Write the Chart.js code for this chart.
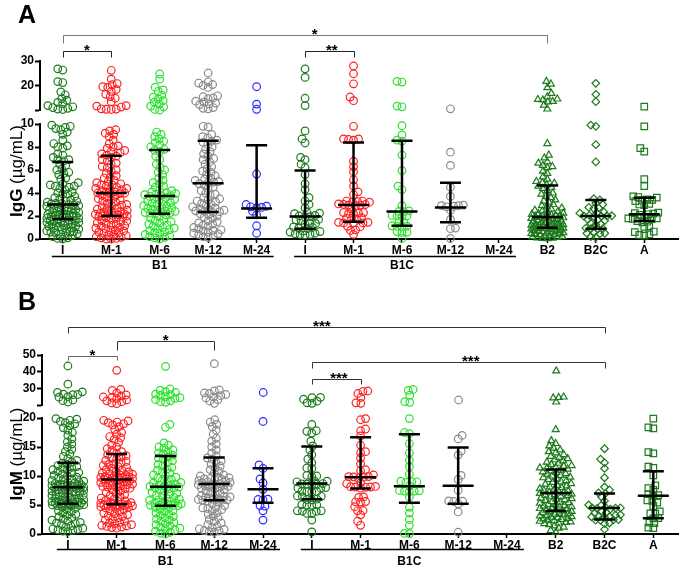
<!DOCTYPE html>
<html>
<head>
<meta charset="utf-8">
<script src="https://cdn.jsdelivr.net/npm/chart.js@4"></script>
<style>
  body { margin: 0; background: #fff; }
  #wrap { position: relative; width: 684px; height: 567px; }
  canvas { position: absolute; left: 0; }
</style>
</head>
<body>
<div id="wrap">
  <canvas id="aTop" width="684" height="285" style="top:0"></canvas>
  <canvas id="aLow" width="684" height="285" style="top:0"></canvas>
  <canvas id="bTop" width="684" height="282" style="top:285px"></canvas>
  <canvas id="bLow" width="684" height="282" style="top:285px"></canvas>
</div>
<script>
var FONT = '"Liberation Sans", Arial, sans-serif';
Chart.defaults.font.family = FONT;
Chart.defaults.color = '#000';

// categorias del eje x
var categories = ['I', 'M-1', 'M-6', 'M-12', 'M-24', 'I', 'M-1', 'M-6', 'M-12', 'M-24', 'B2', 'B2C', 'A'];

// ---- IgG (panel A) ----
var iggB1_I = [26.8, 26.3, 21.6, 21.2, 17.4, 16.2, 14.6, 14.0, 13.1, 12.6, 11.8, 11.3, 11.0, 10.7, 10.4, 10.2,
  9.9, 9.8, 9.7, 9.6, 9.5, 9.3, 9.1, 8.6, 8.3, 8.1, 8.0, 7.9, 7.4, 7.3, 7.1, 6.9, 6.9, 6.8,
  6.5, 6.4, 6.1, 6.0, 5.8, 5.7, 5.6, 5.3, 5.2, 4.9, 4.8, 4.7, 4.6, 4.6, 4.5, 4.4, 4.3, 4.1, 4.0, 3.9, 3.9, 3.7, 3.6, 3.5, 3.4, 3.3, 3.3, 3.2, 3.1, 3.1, 3.05, 3.0,
  2.95, 2.9, 2.85, 2.8, 2.75, 2.7, 2.6, 2.55, 2.5, 2.5, 2.45, 2.4, 2.3, 2.3, 2.25, 2.2, 2.15, 2.1, 2.05, 2.0, 2.0, 1.95, 1.9, 1.9, 1.85, 1.8, 1.8, 1.75,
  1.7, 1.65, 1.6, 1.6, 1.55, 1.5, 1.45, 1.45, 1.4, 1.35, 1.3, 1.3, 1.2, 1.15, 1.1, 1.05, 1.0, 0.95, 0.9, 0.85, 0.8, 0.7, 0.65, 0.6, 0.6, 0.55, 0.5, 0.45, 0.4, 0.3, 0.2, 0.1, 0.05, 0.0];
var iggB1_M1 = [26.2, 22.6, 20.8, 20.3, 19.5, 19.2, 18.4, 17.6, 16.4, 15.5, 14.8, 13.4, 11.8, 11.6, 11.2, 10.5, 10.4, 10.3, 10.2,
  9.5, 9.4, 9.2, 9.1, 8.9, 8.6, 8.3, 8.1, 8.0, 7.9, 7.7, 7.6, 7.5, 7.4, 7.3,
  7.2, 7.1, 6.9, 6.8, 6.6, 6.5, 6.3, 6.2, 6.0, 5.9, 5.7, 5.5, 5.4, 5.3, 5.1, 5.0, 4.9, 4.8, 4.7, 4.7, 4.6, 4.5, 4.4, 4.4, 4.3, 4.3, 4.2, 4.1, 4.1, 4.0, 4.0,
  3.95, 3.9, 3.8, 3.7, 3.6, 3.5, 3.4, 3.4, 3.3, 3.2, 3.1, 3.0, 2.95, 2.9, 2.8, 2.7, 2.65, 2.6, 2.5, 2.45, 2.4, 2.35, 2.3, 2.25, 2.2, 2.2, 2.15, 2.1, 2.05, 2.0, 2.0,
  1.95, 1.9, 1.85, 1.8, 1.7, 1.6, 1.55, 1.5, 1.4, 1.35, 1.3, 1.2, 1.15, 1.1, 1.0, 0.95, 0.9, 0.8, 0.75, 0.7, 0.6, 0.55, 0.5, 0.4, 0.35, 0.3, 0.2, 0.15, 0.1, 0.05, 0.0, 0.0];
var iggB1_M6 = [24.7, 22.6, 19.3, 18.2, 17.6, 16.1, 15.2, 14.5, 13.8, 13.2, 12.4, 11.6, 11.3, 10.2, 10.0,
  9.3, 9.1, 8.9, 8.7, 8.5, 8.4, 8.2, 8.0, 7.8,
  7.7, 7.6, 7.2, 6.9, 6.5, 6.2, 6.0, 5.8, 5.6, 5.3, 5.1, 4.9, 4.8, 4.6, 4.5, 4.3, 4.2, 4.1, 4.0, 3.95, 3.9, 3.85, 3.8, 3.78,
  3.7, 3.6, 3.5, 3.45, 3.4, 3.3, 3.2, 3.15, 3.1, 3.0, 2.9, 2.85, 2.8, 2.7, 2.65, 2.6, 2.5, 2.45, 2.4, 2.35, 2.3, 2.3, 2.25, 2.22,
  2.1, 1.95, 1.8, 1.7, 1.6, 1.5, 1.4, 1.3, 1.2, 1.1, 1.0, 0.95, 0.9, 0.8, 0.7, 0.6, 0.55, 0.5, 0.4, 0.3, 0.2, 0.15, 0.1, 0.0];
var iggB1_M12 = [25.1, 21.5, 21.0, 20.4, 20.0, 19.2, 15.8, 15.4, 14.9, 14.6, 13.6, 13.2, 12.8, 12.5, 12.2, 11.0, 10.7, 10.5,
  9.8, 9.75, 9.1, 8.9, 8.8, 8.6,
  8.5, 8.4, 8.2, 8.0, 7.8, 7.6, 7.4, 7.2, 7.0, 6.9, 6.7, 6.5, 6.3, 6.1, 5.9, 5.8, 5.6, 5.5, 5.3, 5.2, 5.1, 5.0, 4.95, 4.9,
  4.8, 4.7, 4.5, 4.4, 4.2, 4.0, 3.9, 3.8, 3.6, 3.5, 3.4, 3.3, 3.2, 3.1, 3.0, 2.9, 2.8, 2.7, 2.6, 2.55, 2.5, 2.45, 2.4, 2.38,
  2.3, 2.2, 2.1, 2.0, 1.9, 1.8, 1.6, 1.5, 1.4, 1.3, 1.2, 1.1, 1.0, 0.9, 0.8, 0.75, 0.7, 0.6, 0.5, 0.45, 0.4, 0.3, 0.2, 0.15];
var iggB1_M24 = [19.5, 12.4, 10.3, 5.65, 3.0, 2.8, 2.75, 2.7, 2.85, 2.4, 2.1, 1.15, 0.5];
var iggB1C_I = [26.8, 23.3, 14.8, 11.8, 9.4, 8.7, 8.35, 7.1, 6.9, 6.5, 6.2, 5.6, 4.8, 4.3, 3.6, 3.3, 3.0, 2.7,
  2.3, 2.2, 2.25, 2.0, 1.95, 1.9, 2.05, 1.7, 1.6, 1.65, 1.4, 1.35, 1.3, 1.0, 0.95, 1.05, 0.9, 0.7, 0.6, 0.65, 0.4, 0.45, 0.35, 0.5, 0.4];
var iggB1C_M1 = [28.0, 24.8, 20.7, 15.3, 13.8, 9.8, 8.7, 8.65, 8.6, 8.7, 6.75, 6.3, 5.85, 5.15, 4.6, 4.1, 3.85,
  3.3, 3.25, 3.2, 3.3, 3.2, 3.0, 2.95, 2.9, 3.05, 2.95, 3.0, 2.6, 2.3, 2.2, 2.25, 2.3, 2.2,
  1.8, 1.85, 1.75, 1.8, 1.45, 1.4, 1.4, 1.45, 1.4, 1.1, 1.05, 0.8, 0.75, 0.4];
var iggB1C_M6 = [21.7, 21.4, 11.6, 11.3, 9.85, 9.05, 8.6, 8.5, 7.3, 5.95, 4.6, 4.3, 2.9, 2.45, 2.4, 2.35, 2.05, 2.0, 1.95, 2.0,
  1.55, 1.45, 1.15, 1.1, 1.05, 1.1, 0.65, 0.6, 0.55, 0.05];
var iggB1C_M12 = [10.5, 7.55, 6.4, 4.5, 3.7, 2.9, 2.95, 2.85, 2.9, 2.8, 2.5, 1.7, 0.95, 0.9, 0.05];
var iggB1C_M24 = [];
var iggB2 = [21.7, 20.6, 19.1, 16.8, 15.4, 14.5, 14.3, 14.1, 13.5, 13.3, 12.0, 10.4,
  8.3, 7.3, 7.05, 6.7, 6.6, 6.4, 6.3, 6.2, 5.9, 5.7, 5.4, 5.2, 5.0, 4.9, 4.85, 4.7,
  4.6, 4.5, 4.4, 4.2, 4.0, 3.9, 3.7, 3.6, 3.4, 3.3, 3.2, 3.0, 2.9, 2.8, 2.7, 2.6, 2.5, 2.45, 2.4, 2.3, 2.25, 2.2, 2.15, 2.1, 2.05, 2.0, 1.98, 1.95,
  1.9, 1.88, 1.85, 1.8, 1.78, 1.75, 1.7, 1.65, 1.6, 1.55, 1.5, 1.48, 1.45, 1.4, 1.35, 1.3, 1.28, 1.25, 1.2, 1.18, 1.15, 1.1, 1.08, 1.05, 1.03, 1.0, 1.0, 0.99,
  0.95, 0.92, 0.9, 0.88, 0.85, 0.8, 0.78, 0.75, 0.7, 0.68, 0.65, 0.6, 0.55, 0.5, 0.48, 0.45, 0.4, 0.38, 0.35, 0.3, 0.25, 0.22, 0.2, 0.15, 0.1, 0.08, 0.05, 0.02];
var iggB2C = [20.9, 16.4, 13.4, 9.9, 9.8, 8.2, 6.7, 3.5, 3.4, 3.1, 3.0, 2.75, 2.7, 2.65, 2.35, 2.3, 2.25, 2.05, 2.0, 1.98, 2.0, 1.95, 2.02,
  1.7, 1.65, 1.6, 1.3, 1.35, 1.25, 0.9, 0.95, 0.85, 0.9, 0.55, 0.5, 0.45, 0.5, 0.2, 0.15];
var iggA = [11.4, 9.8, 7.9, 7.6, 5.2, 4.6, 3.7, 3.65, 3.6, 3.4, 3.35, 3.3, 3.45, 3.0, 2.95, 3.05, 2.3, 2.25, 2.2, 2.15, 2.1,
  1.85, 1.8, 1.75, 1.8, 1.75, 1.5, 1.45, 1.55, 1.1, 1.05, 0.65, 0.6, 0.35, 0.3, 0.4];
var iggMedian = [3.0, 4.0, 3.75, 4.85, 2.65, 1.95, 2.95, 2.4, 2.75, null, 1.92, 2.0, 2.15];
var iggQ1 = [1.74, 2.0, 2.2, 2.35, 1.85, 0.9, 1.5, 1.15, 1.45, null, 0.98, 0.9, 1.57];
var iggQ3 = [6.7, 7.25, 7.75, 8.55, 8.15, 5.95, 8.4, 8.55, 4.9, null, 4.65, 3.4, 3.58];
var iggTicksUpper = [10, 20, 30];
var iggTicksLower = [0, 2, 4, 6, 8, 10];

// ---- IgM (panel B) ----
var igmB1_I = [43.4, 32.5, 27.9, 27.6, 26.5, 26.3, 26.2, 25.0, 24.7, 23.0, 22.6, 21.8,
  19.9, 19.8, 19.6, 19.4, 19.2, 19.0, 18.7, 18.3, 17.9, 17.5, 17.0, 16.4, 15.9, 15.5, 15.0, 14.6, 14.2, 13.8, 13.4, 13.0, 12.7, 12.4,
  12.2, 12.0, 11.8, 11.6, 11.5, 11.3, 11.1, 11.0, 10.8, 10.6, 10.5, 10.3, 10.1, 10.0, 9.8, 9.7, 9.5, 9.4, 9.2, 9.1, 9.0, 8.9, 8.8, 8.7, 8.6, 8.5, 8.45, 8.4, 8.35, 8.3, 8.25, 8.2, 8.15, 8.1,
  8.05, 8.0, 7.95, 7.9, 7.8, 7.7, 7.6, 7.5, 7.4, 7.3, 7.2, 7.1, 7.0, 6.9, 6.8, 6.7, 6.6, 6.5, 6.4, 6.3, 6.2, 6.1, 6.0, 5.9, 5.8, 5.7, 5.6, 5.5, 5.45, 5.4, 5.35, 5.3, 5.25, 5.2,
  5.15, 5.1, 5.05, 5.0, 5.0, 4.95, 4.9, 4.8, 4.6, 4.4, 4.2, 4.0, 3.8, 3.6, 3.4, 3.2, 3.0, 2.8, 2.6, 2.4, 2.2, 2.0, 1.9, 1.8, 1.6, 1.4, 1.2, 1.0, 0.9, 0.8, 0.7, 0.6, 0.5, 0.4];
var igmB1_M1 = [40.8, 29.3, 28.8, 27.2, 26.0, 25.5, 24.8, 24.5, 23.9, 23.0, 22.5, 22.0, 21.2, 20.8,
  19.6, 19.5, 19.3, 19.2, 19.0, 18.8, 18.5, 18.0, 17.5, 17.2, 16.8, 16.6, 16.3, 15.8, 15.3, 15.0, 14.7, 14.4, 14.2, 13.9,
  13.7, 13.5, 13.3, 13.1, 12.9, 12.7, 12.5, 12.3, 12.1, 12.0, 11.8, 11.6, 11.5, 11.3, 11.1, 11.0, 10.8, 10.7, 10.5, 10.4, 10.3, 10.2, 10.1, 10.0, 9.9, 9.85, 9.8, 9.75, 9.7, 9.65, 9.6, 9.55, 9.5, 9.45,
  9.35, 9.3, 9.2, 9.1, 9.0, 8.9, 8.8, 8.7, 8.6, 8.5, 8.4, 8.3, 8.2, 8.1, 8.0, 7.9, 7.8, 7.6, 7.4, 7.2, 7.0, 6.8, 6.6, 6.4, 6.2, 6.0, 5.8, 5.7, 5.6, 5.5, 5.4, 5.3, 5.25, 5.2,
  5.1, 5.05, 5.0, 4.95, 4.9, 4.85, 4.8, 4.75, 4.7, 4.6, 4.5, 4.4, 4.2, 4.0, 3.8, 3.6, 3.5, 3.3, 3.1, 3.0, 2.8, 2.6, 2.4, 2.2, 2.0, 1.9, 1.8, 1.6, 1.5, 1.4, 1.3, 1.2, 1.1, 1.0];
var igmB1_M6 = [43.2, 29.6, 28.8, 28.0, 27.5, 26.5, 26.2, 25.8, 25.0, 24.4, 24.0, 23.2, 22.5, 22.0, 21.6,
  18.9, 18.4, 15.7, 15.3, 15.0, 14.8, 14.5, 14.2, 14.0, 13.8, 13.6,
  13.3, 13.1, 12.9, 12.6, 12.3, 12.0, 11.8, 11.5, 11.2, 11.0, 10.7, 10.5, 10.2, 10.0, 9.8, 9.6, 9.4, 9.2, 9.0, 8.9, 8.8, 8.6, 8.5, 8.4, 8.3, 8.2,
  8.1, 8.0, 7.9, 7.8, 7.6, 7.4, 7.2, 7.0, 6.9, 6.7, 6.5, 6.3, 6.1, 6.0, 5.9, 5.8, 5.6, 5.5, 5.4, 5.3, 5.2, 5.1, 5.0, 4.95, 4.9, 4.88,
  4.8, 4.6, 4.4, 4.2, 4.0, 3.8, 3.6, 3.4, 3.2, 3.0, 2.8, 2.6, 2.4, 2.2, 2.0, 1.8, 1.6, 1.4, 1.2, 1.0, 0.9, 0.7, 0.5, 0.3, 0.15, 0.0];
var igmB1_M12 = [44.8, 29.0, 28.5, 27.2, 26.9, 26.3, 25.6, 24.9, 24.2, 23.2, 22.4, 21.0,
  19.7, 19.3, 18.9, 18.5, 17.9, 17.2, 16.5, 16.0, 15.5, 15.0, 14.5, 14.0, 13.5,
  13.1, 12.9, 12.6, 12.3, 12.0, 11.7, 11.4, 11.1, 10.8, 10.5, 10.2, 10.0, 9.8, 9.7, 9.6, 9.5, 9.4, 9.3, 9.2, 9.1, 9.0, 8.9, 8.8, 8.7, 8.65,
  8.55, 8.5, 8.4, 8.3, 8.2, 8.1, 8.0, 7.9, 7.8, 7.6, 7.4, 7.2, 7.0, 6.8, 6.6, 6.5, 6.4, 6.3, 6.2, 6.1, 6.0, 5.95, 5.9, 5.85, 5.82,
  5.7, 5.5, 5.2, 4.9, 4.6, 4.5, 4.4, 4.2, 4.0, 3.7, 3.4, 3.1, 2.8, 2.5, 2.2, 1.9, 1.6, 1.3, 1.1, 0.9, 0.8, 0.6, 0.5, 0.4, 0.3];
var igmB1_M24 = [27.5, 19.4, 11.9, 11.3, 9.5, 8.8, 7.7, 6.0, 5.9, 5.95, 4.9, 4.8, 4.0, 2.4];
var igmB1C_I = [24.6, 24.4, 23.5, 22.3, 21.3, 21.0,
  18.9, 17.8, 17.7, 17.4, 16.0, 15.2, 14.5, 13.7, 12.9, 12.3, 11.4, 11.3, 10.1, 10.0, 9.9, 9.1, 9.0, 9.15,
  8.6, 8.65, 8.55, 8.6, 8.7, 7.95, 8.0, 7.9, 7.3, 7.35, 7.25, 7.3, 6.5, 6.55, 6.45, 5.95, 6.0, 5.9,
  5.0, 5.05, 4.95, 5.0, 4.0, 3.95, 3.9, 4.0, 3.55, 3.5, 2.4, 0.35];
var igmB1C_M1 = [28.4, 28.1, 26.9, 24.5, 21.3, 21.0,
  19.9, 19.7, 18.1, 17.8, 16.9, 15.3, 14.2, 14.0, 13.1, 12.1, 11.1, 10.9, 10.2, 9.9, 9.85, 9.8, 9.9, 9.6,
  8.8, 8.7, 8.1, 8.15, 8.05, 8.1, 8.2, 7.9, 6.4, 6.3, 5.6, 5.55, 5.5, 4.7, 4.05, 4.0, 3.3, 2.2, 1.5];
var igmB1C_M6 = [29.3, 28.8, 25.9, 22.0, 21.6,
  19.9, 17.5, 17.3, 15.6, 14.0, 12.7, 11.6, 10.3, 9.0, 9.1, 8.9, 9.0, 8.25, 7.4, 7.5, 7.3, 7.4, 7.45, 6.4,
  4.6, 3.6, 2.5, 1.5, 0.1, 0.05];
var igmB1C_M12 = [23.0, 17.0, 16.4, 14.3, 13.6, 10.1, 9.4, 7.55, 5.7, 5.65, 5.6, 5.2, 3.8, 0.3];
var igmB1C_M24 = [];
var igmB2 = [40.5, 24.8, 24.5, 24.3, 21.8,
  18.0, 16.1, 15.6, 15.2, 14.8, 14.5, 14.2, 14.0, 13.7, 13.4, 13.2, 13.0, 12.8, 12.6, 12.4, 12.2, 12.0, 11.8, 11.7, 11.5, 11.4, 11.3, 11.2,
  11.0, 10.9, 10.7, 10.6, 10.4, 10.3, 10.1, 10.0, 9.8, 9.7, 9.5, 9.4, 9.2, 9.0, 8.9, 8.7, 8.6, 8.4, 8.3, 8.1, 8.0, 7.8, 7.7, 7.5, 7.4, 7.3, 7.2, 7.1,
  7.0, 6.9, 6.8, 6.7, 6.6, 6.5, 6.4, 6.2, 6.1, 6.0, 5.9, 5.8, 5.6, 5.5, 5.4, 5.3, 5.1, 5.0, 4.9, 4.8, 4.7, 4.6, 4.5, 4.4, 4.3, 4.2, 4.1, 4.0,
  3.9, 3.8, 3.7, 3.6, 3.5, 3.4, 3.3, 3.2, 3.1, 3.0, 2.9, 2.8, 2.7, 2.6, 2.5, 2.4, 2.3, 2.2, 2.1, 2.0, 1.9, 1.8, 1.6, 1.4, 1.2, 1.0, 0.6, 0.3];
var igmB2C = [14.7, 12.9, 12.3, 11.3, 9.7, 8.1, 7.6, 7.0, 7.1, 6.4, 5.7, 5.0, 4.9, 4.6, 4.5, 4.45, 4.4, 4.5, 4.3, 4.0, 3.7, 3.6,
  3.25, 3.3, 3.0, 2.95, 2.9, 3.05, 2.5, 2.4, 2.35, 2.45, 1.9, 1.8, 0.8];
var igmA = [19.9, 18.4, 18.2, 14.1, 13.9, 11.6, 11.4, 10.1, 8.4, 7.9, 7.6, 6.9, 6.7, 6.6, 5.8, 5.7, 5.4, 4.8, 3.9, 3.55, 3.5,
  2.75, 2.7, 1.95, 1.85, 1.1, 1.0];
var igmMedian = [8.08, 9.4, 8.13, 8.6, 7.7, 8.7, 9.8, 8.25, 8.3, null, 7.05, 4.47, 6.6];
var igmQ1 = [5.2, 5.15, 4.87, 5.8, 5.4, 6.0, 7.85, 5.4, 5.2, null, 3.95, 2.5, 2.7];
var igmQ3 = [12.3, 13.8, 13.45, 13.2, 11.35, 15.07, 16.7, 17.2, 14.9, null, 11.1, 7.0, 10.8];
var igmTicksUpper = [20, 30, 40, 50];
var igmTicksLower = [0, 5, 10, 15, 20];

// colores y marcadores de cada categoria
var DKGREEN = '#1d7a1d', RED = '#ff2020', LIME = '#2ee02e', GRAY = '#8a8a8a', BLUE = '#2b2bff';
var looks = [
  { c: DKGREEN, s: 'circle', r: 3.8 }, { c: RED, s: 'circle', r: 3.8 }, { c: LIME, s: 'circle', r: 3.8 },
  { c: GRAY, s: 'circle', r: 3.8 }, { c: BLUE, s: 'circle', r: 3.8 },
  { c: DKGREEN, s: 'circle', r: 3.8 }, { c: RED, s: 'circle', r: 3.8 }, { c: LIME, s: 'circle', r: 3.8 },
  { c: GRAY, s: 'circle', r: 3.8 }, { c: GRAY, s: 'circle', r: 3.8 },
  { c: DKGREEN, s: 'triangle', r: 4 }, { c: DKGREEN, s: 'rectRot', r: 3.8 }, { c: DKGREEN, s: 'rect', r: 4.6 }
];

var panelA = {
  topId: 'aTop', lowId: 'aLow', height: 285, axisX: 40, right: 4, xMin: -0.47, xMax: 12.7, split: 10,
  upper: { min: 10, max: 30, ticks: iggTicksUpper, hide: 10, top: 61, bottom: 110 },
  lower: { min: 0, max: 10, ticks: iggTicksLower, hide: null, top: 124, bottom: 239 },
  series: [iggB1_I, iggB1_M1, iggB1_M6, iggB1_M12, iggB1_M24, iggB1C_I, iggB1C_M1, iggB1C_M6, iggB1C_M12, iggB1C_M24, iggB2, iggB2C, iggA],
  median: iggMedian, q1: iggQ1, q3: iggQ3,
  letter: 'A', letterY: 23, title: ['IgG', ' (\u00b5g/mL)'], titleY: 171,
  groupLineY: 256.5, groupTextY: 266,
  brackets: [
    { from: 0, to: 10, y: 35, legL: 8, legR: 8, text: '*', at: 5.2, color: '#777' },
    { from: 0, to: 1, y: 51, legL: 6, legR: 6, text: '*', at: 0.5, color: '#222' },
    { from: 5, to: 6, y: 51, legL: 6, legR: 6, text: '**', at: 5.55, color: '#222' }
  ]
};

var panelB = {
  topId: 'bTop', lowId: 'bLow', height: 282, axisX: 42, right: 1, xMin: -0.53, xMax: 12.51, split: 20,
  upper: { min: 20, max: 50, ticks: igmTicksUpper, hide: 20, top: 70, bottom: 120 },
  lower: { min: 0, max: 20, ticks: igmTicksLower, hide: null, top: 133, bottom: 249 },
  series: [igmB1_I, igmB1_M1, igmB1_M6, igmB1_M12, igmB1_M24, igmB1C_I, igmB1C_M1, igmB1C_M6, igmB1C_M12, igmB1C_M24, igmB2, igmB2C, igmA],
  median: igmMedian, q1: igmQ1, q3: igmQ3,
  letter: 'B', letterY: 25, title: ['IgM', ' (\u00b5g/mL)'], titleY: 169,
  groupLineY: 264.5, groupTextY: 277,
  brackets: [
    { from: 0, to: 11, y: 42, legL: 6, legR: 6, text: '***', at: 5.2, color: '#333' },
    { from: 1, to: 3, y: 56, legL: 9, legR: 9, text: '*', at: 2, color: '#333' },
    { from: 0, to: 1, y: 71, legL: 4, legR: 4, text: '*', at: 0.5, color: '#666' },
    { from: 5, to: 11, y: 76.5, legL: 6, legR: 6, text: '***', at: 8.25, color: '#333' },
    { from: 5, to: 6, y: 93.5, legL: 5, legR: 5, text: '***', at: 5.55, color: '#333' }
  ]
};

var groups = [{ name: 'B1', from: 0, to: 4 }, { name: 'B1C', from: 5, to: 9 }];

// corchetes de significancia (parte superior)
function bracketPlugin(p) {
  return {
    id: 'brackets',
    afterDraw: function (chart) {
      var ctx = chart.ctx, xs = chart.scales.x;
      p.brackets.forEach(function (b) {
        var x1 = Math.round(xs.getPixelForValue(b.from)) + 0.5;
        var x2 = Math.round(xs.getPixelForValue(b.to)) + 0.5;
        var y = Math.round(b.y) + 0.5;
        ctx.save();
        ctx.strokeStyle = b.color;
        ctx.lineWidth = 1;
        ctx.beginPath();
        ctx.moveTo(x1, y + b.legL);
        ctx.lineTo(x1, y);
        ctx.lineTo(x2, y);
        ctx.lineTo(x2, y + b.legR);
        ctx.stroke();
        ctx.fillStyle = '#000';
        ctx.font = 'bold 15px ' + FONT;
        ctx.textAlign = 'center';
        ctx.textBaseline = 'alphabetic';
        ctx.fillText(b.text, xs.getPixelForValue(b.at), y + 3);
        ctx.restore();
      });
    }
  };
}

// mediana + rango intercuartil, grupos, letra y titulo
function decorPlugin(p) {
  return {
    id: 'decor',
    afterDraw: function (chart) {
      var ctx = chart.ctx, xs = chart.scales.x, ys = chart.scales.y;
      ctx.save();
      ctx.strokeStyle = '#000';
      ctx.lineWidth = 2.5;
      p.median.forEach(function (m, i) {
        if (m === null) return;
        var x = xs.getPixelForValue(i);
        var ym = ys.getPixelForValue(m), y1 = ys.getPixelForValue(p.q1[i]), y3 = ys.getPixelForValue(p.q3[i]);
        ctx.beginPath();
        ctx.moveTo(x, y1); ctx.lineTo(x, y3);
        ctx.moveTo(x - 15.5, ym); ctx.lineTo(x + 15.5, ym);
        ctx.moveTo(x - 10.5, y1); ctx.lineTo(x + 10.5, y1);
        ctx.moveTo(x - 10.5, y3); ctx.lineTo(x + 10.5, y3);
        ctx.stroke();
      });

      ctx.lineWidth = 1.5;
      ctx.fillStyle = '#000';
      ctx.font = 'bold 12px ' + FONT;
      ctx.textAlign = 'center';
      ctx.textBaseline = 'middle';
      groups.forEach(function (g) {
        var a = xs.getPixelForValue(g.from) - 11, b = xs.getPixelForValue(g.to) + 17;
        ctx.beginPath();
        ctx.moveTo(a, p.groupLineY); ctx.lineTo(b, p.groupLineY);
        ctx.stroke();
        ctx.fillText(g.name, xs.getPixelForValue((g.from + g.to) / 2), p.groupTextY);
      });

      ctx.font = 'bold 25px ' + FONT;
      ctx.textAlign = 'left';
      ctx.textBaseline = 'alphabetic';
      ctx.fillText(p.letter, 18, p.letterY);

      ctx.translate(17, p.titleY);
      ctx.rotate(-Math.PI / 2);
      ctx.textBaseline = 'middle';
      ctx.font = 'bold 17px ' + FONT;
      var w1 = ctx.measureText(p.title[0]).width;
      ctx.font = '17px ' + FONT;
      var w2 = ctx.measureText(p.title[1]).width;
      var sx = -(w1 + w2) / 2;
      ctx.font = 'bold 17px ' + FONT;
      ctx.fillText(p.title[0], sx, 0);
      ctx.font = '17px ' + FONT;
      ctx.fillText(p.title[1], sx + w1, 0);
      ctx.restore();
    }
  };
}

function chartConfig(p, upper) {
  var seg = upper ? p.upper : p.lower;
  var datasets = p.series.map(function (vals, i) {
    return {
      raw: vals.filter(function (v) { return upper ? v >= p.split : v < p.split; }),
      cat: i,
      data: [],
      pointStyle: looks[i].s,
      pointRadius: looks[i].r,
      pointHoverRadius: looks[i].r,
      pointBorderWidth: 1.2,
      borderColor: looks[i].c,
      backgroundColor: 'rgba(0,0,0,0)',
      clip: false
    };
  });
  return {
    type: 'scatter',
    data: { datasets: datasets },
    options: {
      responsive: false,
      animation: false,
      events: [],
      layout: { padding: { top: seg.top, bottom: upper ? p.height - seg.bottom : 0, left: 0, right: p.right } },
      plugins: { legend: { display: false }, tooltip: { enabled: false } },
      scales: {
        x: {
          type: 'linear',
          min: p.xMin,
          max: p.xMax,
          display: !upper,
          afterFit: function (s) { s.height = upper ? 0 : p.height - seg.bottom; },
          afterBuildTicks: function (s) { s.ticks = categories.map(function (c, i) { return { value: i }; }); },
          ticks: {
            callback: function (v) { return categories[v]; },
            font: { size: 12, weight: 'bold' }, color: '#000', padding: 0, maxRotation: 0, autoSkip: false
          },
          grid: { drawOnChartArea: false, tickLength: 4, tickWidth: 1.5, tickColor: '#000' },
          border: { display: true, color: '#000', width: 2 }
        },
        y: {
          min: seg.min,
          max: seg.max,
          afterFit: function (s) { s.width = p.axisX; },
          afterBuildTicks: function (s) { s.ticks = seg.ticks.map(function (v) { return { value: v }; }); },
          ticks: {
            callback: function (v) { return v === seg.hide ? '' : v; },
            font: { size: 12, weight: 'bold' }, color: '#000', padding: 1, autoSkip: false
          },
          grid: { drawOnChartArea: false, tickLength: 5, tickWidth: 2, tickColor: '#000' },
          border: { display: true, color: '#000', width: 2 }
        }
      }
    },
    plugins: [upper ? bracketPlugin(p) : decorPlugin(p)]
  };
}

// reparte los puntos a lo ancho (tipo "beeswarm") sin tocar los valores
function swarm(chart, d, maxHalf) {
  var xs = chart.scales.x, ys = chart.scales.y;
  var ppu = xs.getPixelForValue(1) - xs.getPixelForValue(0);
  chart.data.datasets.forEach(function (ds) {
    var pts = ds.raw.map(function (v) { return { v: v, y: ys.getPixelForValue(v) }; });
    pts.sort(function (a, b) { return b.y - a.y; });
    var placed = [];
    pts.forEach(function (pt) {
      var best = 0, bestD = -1, found = false;
      for (var k = 0; k <= maxHalf && !found; k += 0.5) {
        var opts = k === 0 ? [0] : (placed.length % 2 ? [-k, k] : [k, -k]);
        for (var j = 0; j < opts.length; j++) {
          var s = opts[j], md = Infinity;
          for (var q = 0; q < placed.length; q++) {
            var dy = placed[q].y - pt.y;
            if (Math.abs(dy) < d) md = Math.min(md, Math.sqrt((placed[q].x - s) * (placed[q].x - s) + dy * dy));
          }
          if (md >= d) { best = s; found = true; break; }
          if (md > bestD) { bestD = md; best = s; }
        }
      }
      pt.x = best;
      placed.push(pt);
    });
    ds.data = placed.map(function (pt) { return { x: ds.cat + pt.x / ppu, y: pt.v }; });
  });
  chart.update('none');
}

[panelA, panelB].forEach(function (p) {
  var top = new Chart(document.getElementById(p.topId), chartConfig(p, true));
  var low = new Chart(document.getElementById(p.lowId), chartConfig(p, false));
  swarm(top, 5, 16);
  swarm(low, 5, 16);
});
</script>
</body>
</html>
